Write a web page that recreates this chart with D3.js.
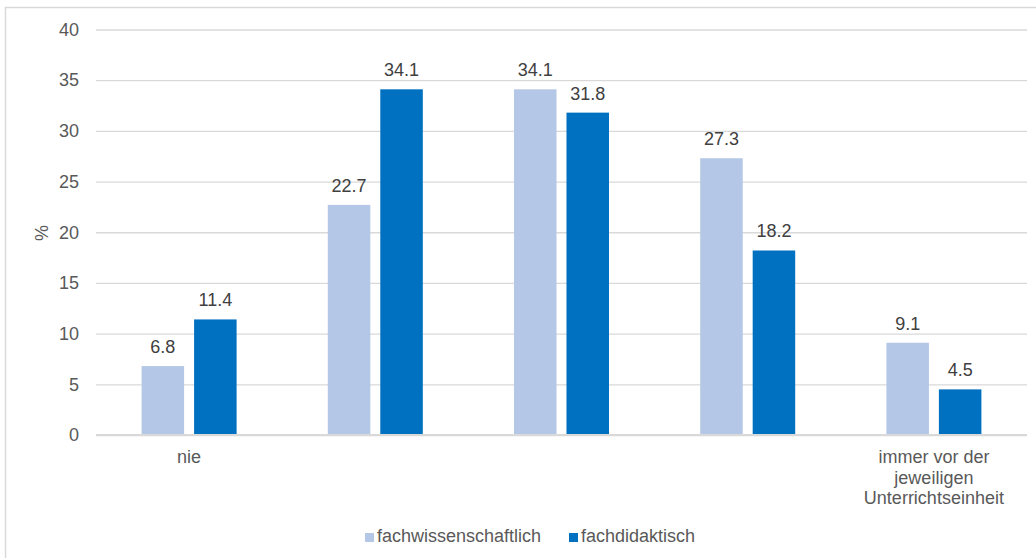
<!DOCTYPE html>
<html>
<head>
<meta charset="utf-8">
<script src="https://cdn.jsdelivr.net/npm/d3@7"></script>
<style>
  body { margin: 0; background: #fff; }
  svg { display: block; font-family: "Liberation Sans", Arial, sans-serif; }
</style>
</head>
<body>
<svg id="drawing_region"></svg>
<script>
const categories = ["nie", "", "", "", "immer vor der jeweiligen Unterrichtseinheit"];
const seriesNames = ["fachwissenschaftlich", "fachdidaktisch"];
const fachwissenschaftlich = [6.8, 22.7, 34.1, 27.3, 9.1];
const fachdidaktisch = [11.4, 34.1, 31.8, 18.2, 4.5];
const yTicks = [0, 5, 10, 15, 20, 25, 30, 35, 40];
const colors = ["#b4c7e7", "#0070c0"];

const width = 1036, height = 558;
const fontSize = 18;
const svg = d3.select('#drawing_region')
    .attr('width', width)
    .attr('height', height);

// chart frame (right and bottom edge run off the picture)
svg.append('path')
    .attr('d', `M5.5,${height} V7.5 H${width}`)
    .attr('fill', 'none')
    .attr('stroke', '#d9d9d9')
    .attr('stroke-width', 1.5);

const x = d3.scaleBand()
    .domain(d3.range(categories.length))
    .range([96, 1027]);

const y = d3.scaleLinear()
    .domain([0, 40])
    .range([435, 29.5]);

const xs = d3.scaleBand()
    .domain([0, 1])
    .range([x.bandwidth() / 2 - 47.5, x.bandwidth() / 2 + 47.5])
    .paddingInner(0.19);

// gridlines + y tick labels
const yAxis = svg.append('g')
    .attr('transform', 'translate(96,0)')
    .call(d3.axisLeft(y).tickValues(yTicks).tickSize(-931).tickPadding(17));
yAxis.select('.domain').remove();
yAxis.selectAll('.tick line')
    .attr('stroke', '#d9d9d9')
    .attr('stroke-width', 1.3);
yAxis.selectAll('.tick text')
    .attr('fill', '#595959')
    .attr('font-size', fontSize)
    .attr('font-family', '"Liberation Sans", Arial, sans-serif');

svg.append('text')
    .attr('transform', 'translate(48,233) rotate(-90)')
    .attr('text-anchor', 'middle')
    .attr('fill', '#595959')
    .attr('font-size', fontSize)
    .text('%');

const series = [fachwissenschaftlich, fachdidaktisch];
const groups = svg.append('g');

series.forEach((vals, s) => {
    groups.selectAll(`.bar${s}`)
        .data(vals)
        .enter()
        .append('rect')
        .attr('x', (d, i) => x(i) + xs(s))
        .attr('y', d => y(d))
        .attr('width', xs.bandwidth())
        .attr('height', d => y(0) - y(d))
        .attr('fill', colors[s]);

    groups.selectAll(`.label${s}`)
        .data(vals)
        .enter()
        .append('text')
        .attr('x', (d, i) => x(i) + xs(s) + xs.bandwidth() / 2)
        .attr('y', d => y(d) - 13)
        .attr('text-anchor', 'middle')
        .attr('fill', '#404040')
        .attr('font-size', fontSize)
        .text(d => d.toFixed(1));
});

// zero line on top of bars
svg.append('line')
    .attr('x1', 96).attr('x2', 1027)
    .attr('y1', y(0)).attr('y2', y(0))
    .attr('stroke', '#d9d9d9')
    .attr('stroke-width', 2);

// category labels
const catLines = [["nie"], [], [], [], ["immer vor der", "jeweiligen", "Unterrichtseinheit"]];
catLines.forEach((lines, i) => {
    svg.append('text')
        .attr('text-anchor', 'middle')
        .attr('fill', '#595959')
        .attr('font-size', fontSize)
        .selectAll('tspan')
        .data(lines)
        .enter()
        .append('tspan')
        .attr('x', x(i) + x.bandwidth() / 2)
        .attr('y', (d, j) => 463 + j * 20.5)
        .text(d => d);
});

// legend
const legendX = [365, 569];
const legend = svg.append('g');
seriesNames.forEach((name, s) => {
    legend.append('rect')
        .attr('x', legendX[s])
        .attr('y', 533)
        .attr('width', 9)
        .attr('height', 9)
        .attr('fill', colors[s]);
    legend.append('text')
        .attr('x', legendX[s] + 12)
        .attr('y', 542)
        .attr('fill', '#595959')
        .attr('font-size', fontSize)
        .text(name);
});
</script>
</body>
</html>
